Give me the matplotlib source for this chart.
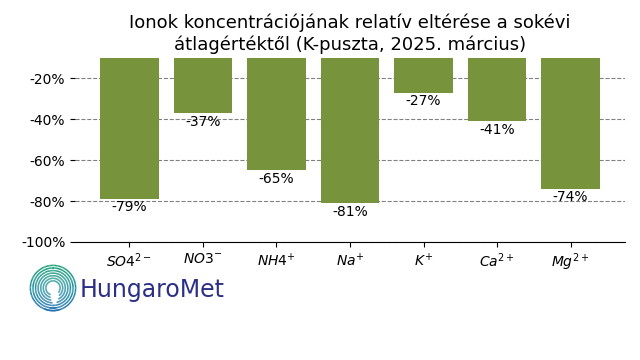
import numpy as np
import matplotlib
matplotlib.use("Agg")
import matplotlib.pyplot as plt
from matplotlib.collections import LineCollection
from matplotlib.colors import LinearSegmentedColormap
from matplotlib.ticker import PercentFormatter

plt.rcParams["axes.unicode_minus"] = False

ions = [r"$SO4^{2-}$", r"$NO3^{-}$", r"$NH4^{+}$", r"$Na^{+}$", r"$K^{+}$", r"$Ca^{2+}$", r"$Mg^{2+}$"]
deviation = [-79, -37, -65, -81, -27, -41, -74]

BAR = "#77933c"

fig = plt.figure(figsize=(6.4, 3.6), dpi=100)
ax = fig.add_axes([75 / 640, 1 - 242 / 360, 550 / 640, 184 / 360])

bars = ax.bar(ions, deviation, width=0.8, color=BAR, zorder=2)
for b, v in zip(bars, deviation):
    ax.annotate(f"{v}%", (b.get_x() + b.get_width() / 2, v), textcoords="offset points",
                xytext=(0, -1), ha="center", va="top", fontsize=10)

ax.set_ylim(-100, -10)
ax.set_yticks([-100, -80, -60, -40, -20])
ax.yaxis.set_major_formatter(PercentFormatter(decimals=0))
ax.grid(axis="y", color="gray", ls="--", lw=0.8, zorder=0)
for s in ("top", "right", "left"):
    ax.spines[s].set_visible(False)
ax.tick_params(labelsize=10)
ax.set_title("Ionok koncentrációjának relatív eltérése a sokévi\nátlagértéktől (K-puszta, 2025. március)",
             fontsize=13)

# HungaroMet logo (rough approximation: spiral rings, green top -> blue bottom)
lax = fig.add_axes([28 / 640, 1 - 313 / 360, 50 / 640, 50 / 360])
lax.set_xlim(-1.05, 1.05)
lax.set_ylim(-1.05, 1.05)
lax.set_aspect("equal")
lax.axis("off")
cmap = LinearSegmentedColormap.from_list("hm", ["#1f6fb5", "#178a9a", "#15a070"])
for i, r in enumerate(np.linspace(0.3, 0.95, 7)):
    t = np.radians(np.linspace(-40 - i * 12, 250 + i * 6, 120))
    x, y = r * np.cos(t), r * np.sin(t)
    pts = np.column_stack([x, y]).reshape(-1, 1, 2)
    segs = np.concatenate([pts[:-1], pts[1:]], axis=1)
    lc = LineCollection(segs, cmap=cmap, norm=plt.Normalize(-1, 1), lw=1.1)
    lc.set_array((y[:-1] + y[1:]) / 2)
    lax.add_collection(lc)
fig.text(80 / 640, 1 - 297 / 360, "HungaroMet", fontsize=17, color="#2b2f86",
         family="DejaVu Sans", va="baseline")

fig.savefig("out.png", dpi=100)
